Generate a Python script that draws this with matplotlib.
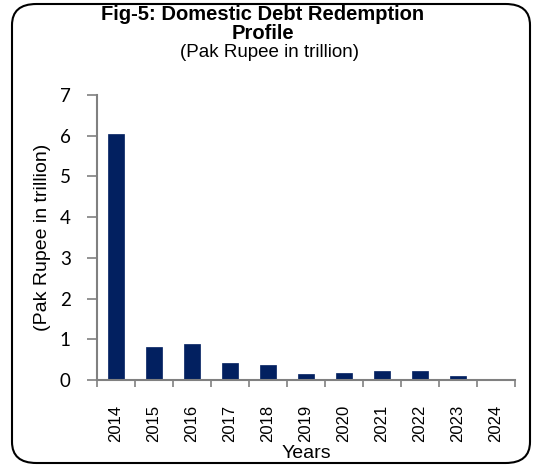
import numpy as np
import matplotlib
matplotlib.use("Agg")
import matplotlib.pyplot as plt
from matplotlib.patches import FancyBboxPatch

plt.rcParams["font.family"] = ["Liberation Sans", "DejaVu Sans"]

years = ["2014", "2015", "2016", "2017", "2018", "2019", "2020", "2021", "2022", "2023", "2024"]
redemption = [6.03, 0.82, 0.89, 0.42, 0.37, 0.15, 0.16, 0.22, 0.22, 0.11, 0.0]
yticks = [0, 1, 2, 3, 4, 5, 6, 7]

fig = plt.figure(figsize=(5.42, 4.68), dpi=100)
ax = fig.add_axes([97 / 542, 1 - 380 / 468, 418 / 542, 285 / 468])

x = np.arange(len(years))
ax.bar(x, redemption, width=0.4, color="#022060", edgecolor="#022060", linewidth=0.5)

ax.set_xlim(-0.5, len(years) - 0.5)
ax.set_ylim(0, 7)
ax.set_yticks(yticks)
ax.set_yticklabels([str(v) for v in yticks], fontsize=13.5, family="Lato")
ax.set_xticks(x)
ax.set_xticklabels(years, rotation=90, fontsize=12)
ax.tick_params(axis="x", length=0, pad=18)
# boundary tick marks between categories
ax.set_xticks(np.arange(-0.5, len(years)), minor=True)
ax.tick_params(axis="x", which="minor", length=5, color="#808080", width=1.2)
ax.tick_params(axis="y", length=7, color="#808080", width=1.2, pad=12)

for side in ["top", "right"]:
    ax.spines[side].set_visible(False)
for side in ["left", "bottom"]:
    ax.spines[side].set_color("#808080")
    ax.spines[side].set_linewidth(1.5)

ax.set_xlabel("Years", fontsize=14, labelpad=2)
ax.set_ylabel("(Pak Rupee in trillion)", fontsize=14, labelpad=6)

fig.text(263 / 542, 1 - 43 / 468, "Fig-5: Domestic Debt Redemption\nProfile",
         ha="center", va="bottom", fontsize=14.5, fontweight="bold",
         linespacing=1.0, multialignment="center")
fig.text(270 / 542, 1 - 44 / 468, "(Pak Rupee in trillion)",
         ha="center", va="top", fontsize=13.5)

frame = FancyBboxPatch((12 / 542, 5 / 468), 518 / 542, 459 / 468,
                       boxstyle="round,pad=0,rounding_size=0.045",
                       transform=fig.transFigure, fill=False,
                       edgecolor="black", linewidth=1.5)
fig.patches.append(frame)

fig.savefig("out.png", dpi=100)
